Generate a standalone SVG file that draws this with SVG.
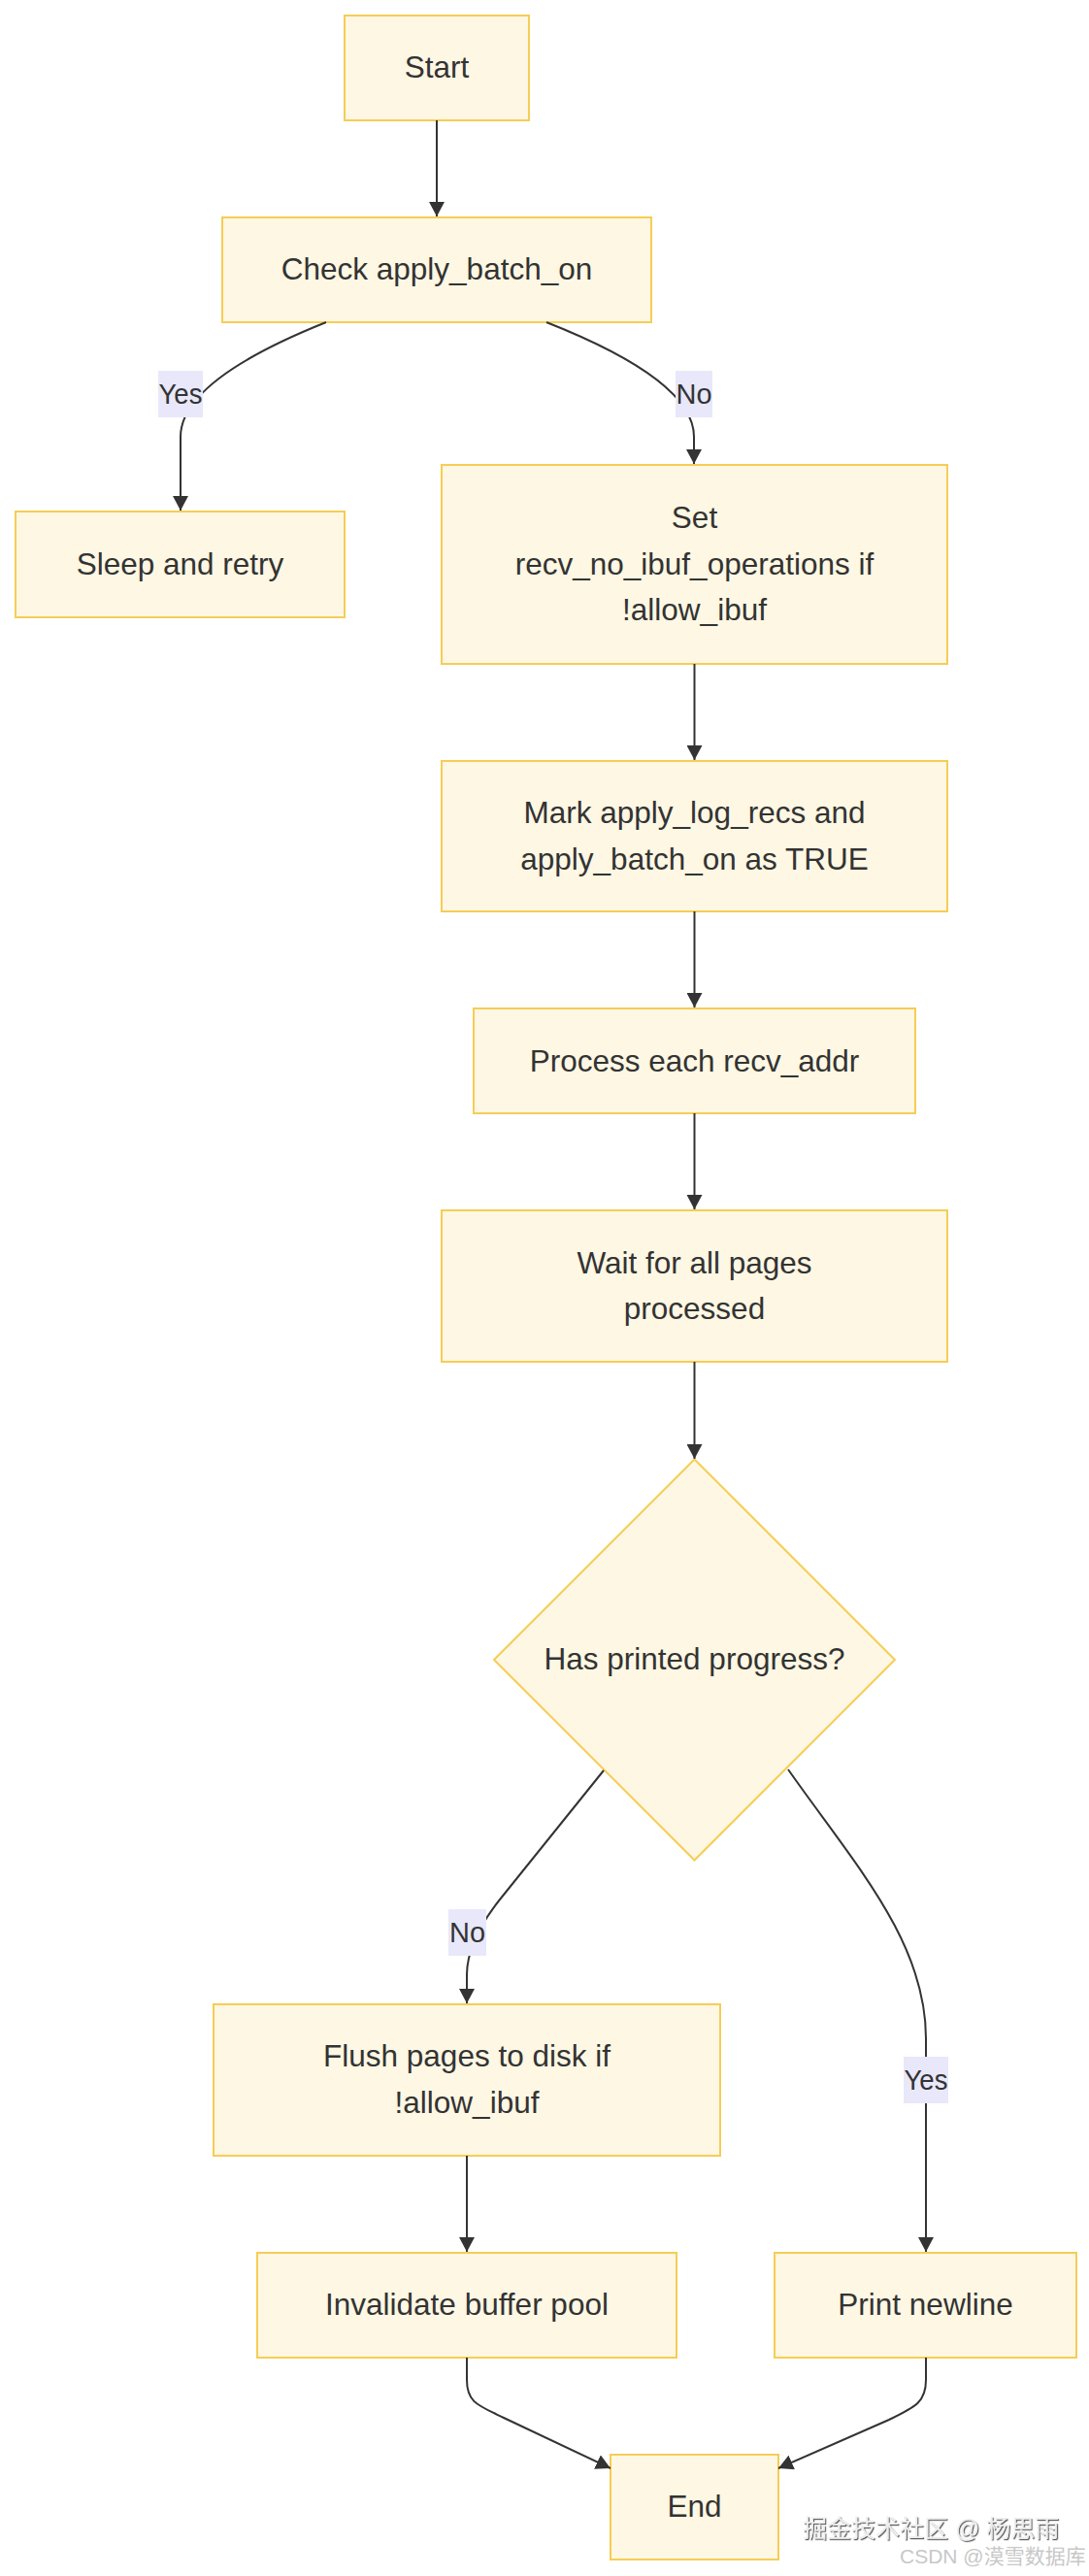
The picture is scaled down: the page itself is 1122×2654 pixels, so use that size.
<svg xmlns="http://www.w3.org/2000/svg" width="1122" height="2654" viewBox="0 0 1122 2654">
<style>
.node rect, .node polygon { fill: #fdf7e3; stroke: #f6cd55; stroke-width: 2; }
.node text { font-family: "Liberation Sans", Arial, sans-serif; font-size: 31.5px; fill: #333333; text-anchor: middle; }
.edge { fill: none; stroke: #333333; stroke-width: 2; }
.elabel rect { fill: #e8e8fa; stroke: none; }
.elabel text { font-family: "Liberation Sans", Arial, sans-serif; font-size: 30px; fill: #333333; text-anchor: middle; }
.wm1 { font-family: "Liberation Sans", "Noto Sans CJK SC", sans-serif; font-size: 25px; fill: #eeeeee; }
.wm2 { font-family: "Liberation Sans", "Noto Sans CJK SC", sans-serif; font-size: 21px; fill: #c8c8c8; }
</style>
<defs>
<marker id="arrow" viewBox="0 0 15 16" refX="15" refY="8" markerWidth="15" markerHeight="16" markerUnits="userSpaceOnUse" orient="auto">
<path d="M0,0 L15,8 L0,16 z" fill="#333333"/>
</marker>
<filter id="emboss" x="-5%" y="-20%" width="110%" height="140%">
<feDropShadow dx="1.2" dy="1.2" stdDeviation="0.6" flood-color="#444444" flood-opacity="0.9"/>
</filter>
</defs>
<rect x="0" y="0" width="1122" height="2654" fill="#ffffff"/>

<g id="start" class="node">
<rect x="355" y="16" width="190" height="108"/>
<text x="450" y="80">Start</text>
</g>
<g id="check" class="node">
<rect x="229" y="224" width="442" height="108"/>
<text x="450" y="288">Check apply_batch_on</text>
</g>
<g id="sleep" class="node">
<rect x="16" y="527" width="339" height="109"/>
<text x="185.5" y="592">Sleep and retry</text>
</g>
<g id="set" class="node">
<rect x="455" y="479" width="521" height="205"/>
<text x="715.5" y="544">Set</text>
<text x="715.5" y="591.5">recv_no_ibuf_operations if</text>
<text x="715.5" y="639">!allow_ibuf</text>
</g>
<g id="mark" class="node">
<rect x="455" y="784" width="521" height="155"/>
<text x="715.5" y="848">Mark apply_log_recs and</text>
<text x="715.5" y="895.5">apply_batch_on as TRUE</text>
</g>
<g id="process" class="node">
<rect x="488" y="1039" width="455" height="108"/>
<text x="715.5" y="1104">Process each recv_addr</text>
</g>
<g id="wait" class="node">
<rect x="455" y="1247" width="521" height="156"/>
<text x="715.5" y="1312">Wait for all pages</text>
<text x="715.5" y="1359">processed</text>
</g>
<g id="decision" class="node">
<polygon points="715.5,1503.5 922,1710 715.5,1916.5 509,1710"/>
<text x="715.5" y="1720">Has printed progress?</text>
</g>
<g id="flush" class="node">
<rect x="220" y="2065" width="522" height="156"/>
<text x="481" y="2129">Flush pages to disk if</text>
<text x="481" y="2177">!allow_ibuf</text>
</g>
<g id="invalidate" class="node">
<rect x="265" y="2321" width="432" height="108"/>
<text x="481" y="2385">Invalidate buffer pool</text>
</g>
<g id="print" class="node">
<rect x="798" y="2321" width="311" height="108"/>
<text x="953.5" y="2385">Print newline</text>
</g>
<g id="end" class="node">
<rect x="629" y="2529" width="173" height="108"/>
<text x="715.5" y="2593">End</text>
</g>

<g id="connectors">
<path class="edge" d="M450,124 L450,223" marker-end="url(#arrow)"/>
<path class="edge" d="M336,332 Q186,392 186,450 L186,526" marker-end="url(#arrow)"/>
<path class="edge" d="M563,332 Q715,392 715,450 L715,478" marker-end="url(#arrow)"/>
<path class="edge" d="M715.5,684 L715.5,783" marker-end="url(#arrow)"/>
<path class="edge" d="M715.5,939 L715.5,1038" marker-end="url(#arrow)"/>
<path class="edge" d="M715.5,1147 L715.5,1246" marker-end="url(#arrow)"/>
<path class="edge" d="M715.5,1403 L715.5,1503" marker-end="url(#arrow)"/>
<path class="edge" d="M622,1824 L515,1957 Q481,2000 481,2035 L481,2064" marker-end="url(#arrow)"/>
<path class="edge" d="M812,1823 C880,1920 954,2000 954,2100 L954,2320" marker-end="url(#arrow)"/>
<path class="edge" d="M481,2221 L481,2320" marker-end="url(#arrow)"/>
<path class="edge" d="M481,2429 L481,2452 C481,2475 492,2478 519,2491 L629,2543" marker-end="url(#arrow)"/>
<path class="edge" d="M954,2429 L954,2452 C954,2475 943,2480 916,2493 L802,2543" marker-end="url(#arrow)"/>
<g class="elabel">
<rect x="163" y="382" width="46" height="48"/>
<text x="186" y="416" textLength="45" lengthAdjust="spacingAndGlyphs">Yes</text>
</g>
<g class="elabel">
<rect x="696" y="382" width="38" height="48"/>
<text x="715" y="416" textLength="37" lengthAdjust="spacingAndGlyphs">No</text>
</g>
<g class="elabel">
<rect x="462" y="1967" width="39" height="48"/>
<text x="481.5" y="2001" textLength="37" lengthAdjust="spacingAndGlyphs">No</text>
</g>
<g class="elabel">
<rect x="931" y="2119" width="46" height="48"/>
<text x="954" y="2153" textLength="45" lengthAdjust="spacingAndGlyphs">Yes</text>
</g>
</g>

<g id="watermark">
<text class="wm1" x="827" y="2614" filter="url(#emboss)">掘金技术社区 @ 杨思雨</text>
<text class="wm2" x="927" y="2641">CSDN @漠雪数据库</text>
</g>
</svg>
